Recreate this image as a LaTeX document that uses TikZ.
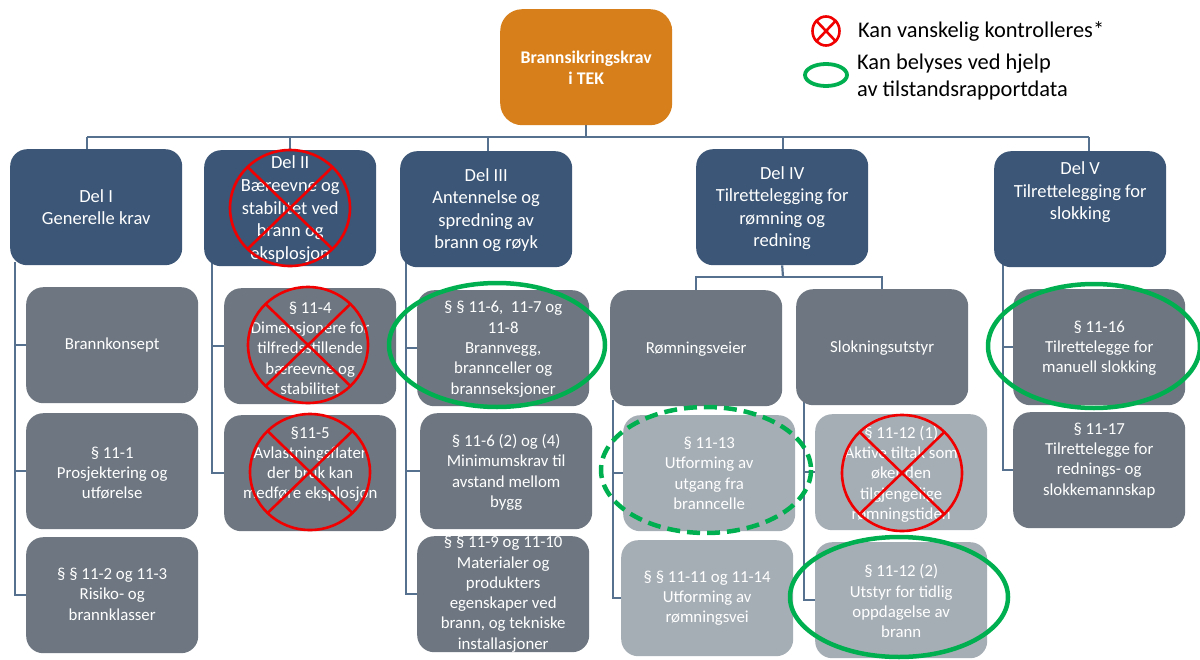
\documentclass[tikz,border=0pt]{standalone}
\usepackage{fontspec}
\setmainfont{Carlito}
\usetikzlibrary{backgrounds}
\definecolor{navy}{HTML}{3B5676}
\definecolor{gmid}{HTML}{6E7781}
\definecolor{glight}{HTML}{A6AEB5}
\definecolor{orng}{HTML}{D77F1A}
\definecolor{conncol}{HTML}{56708F}
\definecolor{grn}{HTML}{00B050}
\definecolor{xred}{HTML}{F00000}
\begin{document}
\begin{tikzpicture}[x=1pt,y=-1pt,
  boxbase/.style={rectangle, rounded corners=17pt, anchor=north west, inner sep=0pt,
     minimum width=172pt, minimum height=116pt},
  topbox/.style={boxbase, fill=orng, rounded corners=22pt},
  delbox/.style={boxbase, fill=navy},
  midbox/.style={boxbase, fill=gmid},
  lightbox/.style={boxbase, fill=glight},
  ttop/.style={align=center, text=white, inner sep=0pt, font=\bfseries\fontsize{17.8}{21}\selectfont},
  tdel/.style={align=center, text=white, inner sep=0pt, font=\fontsize{18.5}{22.6}\selectfont},
  tsub/.style={align=center, text=white, inner sep=0pt, font=\fontsize{16.8}{20.3}\selectfont},
  conn/.style={draw=conncol, line width=2.2pt},
  xmark/.style={draw=xred, line width=2.6pt},
  okmark/.style={draw=grn, line width=4.5pt},
  okdash/.style={okmark, dash pattern=on 13pt off 7pt},
  legtxt/.style={align=left, anchor=west, inner sep=0pt, font=\fontsize{22.4}{27}\selectfont}
]
\useasboundingbox (0,0) rectangle (1200,659);

% boxes
\node[topbox] (top) at (500,9) {};
\node[delbox] (d1) at (10,149) {};
\node[delbox] (d2) at (204,150) {};
\node[delbox] (d3) at (400,151) {};
\node[delbox] (d4) at (696,149) {};
\node[delbox] (d5) at (994,151) {};

\node[midbox] (a1) at (26,287) {};
\node[midbox] (a2) at (26,413) {};
\node[midbox] (a3) at (26,537) {};
\node[midbox] (b1) at (224,288) {};
\node[midbox] (b2) at (224,415) {};
\node[midbox] (c1) at (417,290) {};
\node[midbox] (c2) at (420,413) {};
\node[midbox] (c3) at (417,536) {};
\node[midbox] (r) at (610,290) {};
\node[midbox] (s) at (796,289) {};
\node[lightbox] (r1) at (623,415) {};
\node[lightbox] (r2) at (621,540) {};
\node[lightbox] (s1) at (815,414) {};
\node[lightbox] (s2) at (815,542) {};
\node[midbox] (e1) at (1013,289) {};
\node[midbox] (e2) at (1013,412) {};

% connector anchor points
\coordinate (busL) at (87,137);
\coordinate (busR) at (1089,137);
\coordinate (bus2) at (290,137);
\coordinate (bus3) at (488,137);
\coordinate (bus4) at (783,137);
\coordinate (sbus) at (783,277);
\coordinate (v1) at (15,262);
\coordinate (v2) at (212,262);
\coordinate (v3) at (406,262);
\coordinate (v4a) at (613,400);
\coordinate (v4b) at (804,400);
\coordinate (v5) at (1003,262);

% connector lines, under the boxes
\begin{scope}[on background layer]
\fill[white] (0,0) rectangle (1200,659);
\draw[conn] (top.south) -- (top.south |- busL);
\draw[conn] (busL) -- (busR);
\draw[conn] (busL) -- (busL |- d1.north);
\draw[conn] (bus2) -- (bus2 |- d2.north);
\draw[conn] (bus3) -- (bus3 |- d3.north);
\draw[conn] (bus4) -- (bus4 |- d4.north);
\draw[conn] (busR) -- (busR |- d5.north);
\draw[conn] (v1) |- (a1.west);
\draw[conn] (v1) |- (a2.west);
\draw[conn] (v1) |- (a3.west);
\draw[conn] (v2) |- (b1.west);
\draw[conn] (v2) |- (b2.west);
\draw[conn] (v3) |- (c1.west);
\draw[conn] (v3) |- (c2.west);
\draw[conn] (v3) |- (c3.west);
\draw[conn] (d4.south) -- (sbus);
\draw[conn] (r.north) |- (sbus) -| (s.north);
\draw[conn] (v4a) |- (r1.west);
\draw[conn] (v4a) |- (r2.west);
\draw[conn] (v4b) |- (s1.west);
\draw[conn] (v4b) |- (s2.west);
\draw[conn] (v5) |- (e1.west);
\draw[conn] (v5) |- (e2.west);
\end{scope}

% texts
\node[ttop] (topt) at ([yshift=-1pt]top.center) {Brannsikringskrav\\i TEK};
\node[tdel] (d1t) at (d1.center) {Del I\\Generelle krav};
\node[tdel] (d2t) at ([yshift=-1pt]d2.center) {Del II\\Bæreevne og\\stabilitet ved\\brann og\\eksplosjon};
\node[tdel] (d3t) at ([yshift=-1pt]d3.center) {Del III\\Antennelse og\\spredning av\\brann og røyk};
\node[tdel] (d4t) at ([yshift=-1pt]d4.center) {Del IV\\Tilrettelegging for\\rømning og\\redning};
\node[tdel] (d5t) at ([yshift=17pt]d5.center) {Del V\\Tilrettelegging for\\slokking};
\node[tsub] (a1t) at (a1.center) {Brannkonsept};
\node[tsub] (a2t) at ([yshift=-2pt]a2.center) {§ 11-1\\Prosjektering og\\utførelse};
\node[tsub] (a3t) at ([yshift=1pt]a3.center) {§ § 11-2 og 11-3\\Risiko- og\\brannklasser};
\node[tsub] (b1t) at ([yshift=-2pt]b1.center) {§ 11-4\\Dimensjonere for\\tilfredsstillende\\bæreevne og\\stabilitet};
\node[tsub] (b2t) at ([yshift=9pt]b2.center) {§11-5\\Avlastningsflater\\der bruk kan\\medføre eksplosjon};
\node[tsub] (c1t) at ([yshift=-1pt]c1.center) {§ § 11-6,\ \ 11-7 og\\11-8\\Brannvegg,\\brannceller og\\brannseksjoner};
\node[tsub] (c2t) at ([yshift=-1pt]c2.center) {§ 11-6 (2) og (4)\\Minimumskrav til\\avstand mellom\\bygg};
\node[tsub] (c3t) at (c3.center) {§ § 11-9 og 11-10\\Materialer og\\produkters\\egenskaper ved\\brann, og tekniske\\installasjoner};
\node[tsub] (rt) at ([yshift=-1pt]r.center) {Rømningsveier};
\node[tsub] (st) at ([yshift=-1pt]s.center) {Slokningsutstyr};
\node[tsub] (r1t) at (r1.center) {§ 11-13\\Utforming av\\utgang fra\\branncelle};
\node[tsub] (r2t) at (r2.center) {§ § 11-11 og 11-14\\Utforming av\\rømningsvei};
\node[tsub] (s1t) at ([yshift=-2pt]s1.center) {§ 11-12 (1)\\Aktive tiltak som\\øker den\\tilgjengelige\\rømningstiden};
\node[tsub] (s2t) at ([yshift=-1pt]s2.center) {§ 11-12 (2)\\Utstyr for tidlig\\oppdagelse av\\brann};
\node[tsub] (e1t) at ([yshift=-1pt]e1.center) {§ 11-16\\Tilrettelegge for\\manuell slokking};
\node[tsub] (e2t) at ([yshift=10pt]e2.center) {§ 11-17\\Tilrettelegge for\\rednings- og\\slokkemannskap};

% red crosses
\foreach \cx/\cy in {290/208, 308/345, 310/472, 902/473}
  \draw[xmark, shift={(\cx,\cy)}] (0,0) ellipse [x radius=60, y radius=58]
     (-42.4,-41) -- (42.4,41) (-42.4,41) -- (42.4,-41);

% green marks
\draw[okmark] (497,345) ellipse [x radius=108, y radius=62];
\draw[okmark] (1094,346) ellipse [x radius=106, y radius=62];
\draw[okmark] (899,597) ellipse [x radius=109, y radius=60];
\draw[okdash] (706,470) ellipse [x radius=105, y radius=63];

% legend
\draw[xmark, shift={(826,31)}] (0,0) ellipse [x radius=13.5, y radius=14.5]
   (-9.5,-10) -- (9.5,10) (-9.5,10) -- (9.5,-10);
\draw[okmark, line width=3.8pt] (826,75) ellipse [x radius=21, y radius=11];
\node[legtxt] (leg1) at (858,31) {Kan vanskelig kontrolleres*};
\node[legtxt] (leg2) at (857,77) {Kan belyses ved hjelp\\av tilstandsrapportdata};
\end{tikzpicture}
\end{document}
